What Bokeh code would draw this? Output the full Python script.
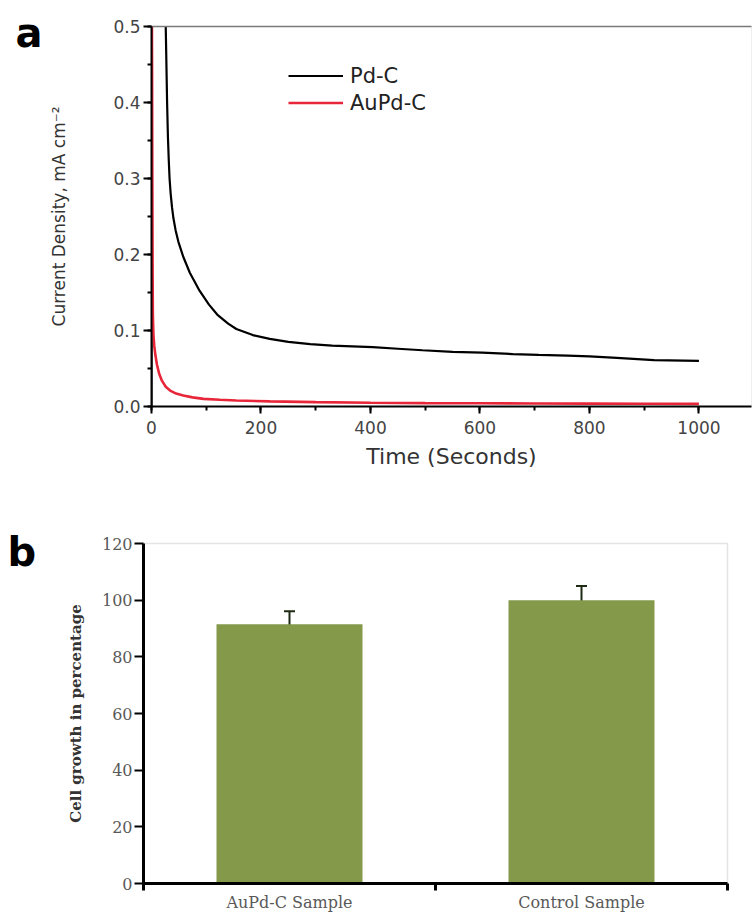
from bokeh.plotting import figure
from bokeh.models import (ColumnDataSource, LinearAxis, FixedTicker, SingleIntervalTicker,
                          Whisker, TeeHead, Range1d, NumeralTickFormatter)
from bokeh.core.properties import value
from bokeh.layouts import column, row
from bokeh.embed import file_html
from bokeh.resources import INLINE

# ---------------- data: panel a (chronoamperometry) ----------------
pdc_time = [0, 1, 24, 25, 26, 27, 28.5, 30, 31.5, 33, 35, 37.5, 40, 44, 49, 58, 70, 88, 105,
            120, 140, 155, 185, 216, 250, 290, 330, 367, 404, 450, 495, 550, 604, 660, 707,
            760, 800, 850, 918, 1000]
pdc_current = [0.0, 0.8, 0.58, 0.54, 0.50, 0.46, 0.40, 0.355, 0.325, 0.30, 0.28, 0.262, 0.248,
               0.232, 0.217, 0.197, 0.176, 0.152, 0.134, 0.121, 0.109, 0.102, 0.094, 0.089,
               0.085, 0.082, 0.080, 0.079, 0.078, 0.076, 0.074, 0.072, 0.071, 0.069, 0.068,
               0.067, 0.066, 0.064, 0.061, 0.060]

aupdc_time = [0.5, 1, 1.5, 2, 2.5, 3.5, 5, 7, 10, 14, 19, 26, 34, 45, 58, 75, 95, 125, 155,
              216, 300, 400, 500, 600, 700, 800, 900, 1000]
aupdc_current = [0.55, 0.45, 0.30, 0.18, 0.12, 0.095, 0.08, 0.068, 0.055, 0.043, 0.034, 0.026,
                 0.021, 0.017, 0.0145, 0.012, 0.010, 0.0088, 0.0079, 0.0068, 0.0058, 0.005,
                 0.0045, 0.0042, 0.004, 0.0038, 0.0036, 0.0035]

# ---------------- data: panel b (cell growth) ----------------
cell_categories = ["AuPd-C Sample", "Control Sample"]
cell_growth = [91.5, 100.0]
cell_error = [4.6, 5.0]

panel_letters = ["a", "b"]

SANS = "DejaVu Sans"
SERIF = "DejaVu Serif"

LETTER_W = 46
A_H = 485
B_H = 429


def letter_panel(letter, height, left, baseline_from_top):
    lp = figure(width=LETTER_W, height=height, min_border=0, title=None,
                x_range=Range1d(0, LETTER_W), y_range=Range1d(0, height),
                x_axis_type=None, y_axis_type=None, frame_align=False,
                output_backend="svg", toolbar_location=None)
    lp.grid.visible = False
    lp.outline_line_color = None
    lp.text(x=[left], y=[height - baseline_from_top], text=[letter],
            text_font=value(SANS), text_font_size="40px", text_font_style="bold",
            text_color="black", text_baseline="alphabetic", text_align="left")
    return lp


# ================= panel a =================
pa = figure(width=753 - LETTER_W, height=A_H, frame_align=False,
            min_border_left=148 - LETTER_W, min_border_right=2, min_border_top=26,
            min_border_bottom=79,
            x_range=Range1d(0, 1096), y_range=Range1d(0, 0.5),
            output_backend="svg", toolbar_location=None)
pa.grid.visible = False
pa.outline_line_color = "#eeeeee"

pa.line(pdc_time, pdc_current, line_color="black", line_width=2.2, legend_label="Pd-C")
pa.line(aupdc_time, aupdc_current, line_color="#e8263a", line_width=2.6, legend_label="AuPd-C")

for ax in (pa.xaxis[0], pa.yaxis[0]):
    ax.axis_line_color = "black"
    ax.axis_line_width = 2
    ax.major_tick_line_color = "black"
    ax.minor_tick_line_color = "black"
    ax.major_tick_line_width = 2
    ax.minor_tick_line_width = 2
    ax.major_tick_in = 0
    ax.minor_tick_in = 0
    ax.major_label_text_font = SANS
    ax.major_label_text_font_size = "17px"
    ax.major_label_text_color = "#444444"
    ax.axis_label_text_font = SANS
    ax.axis_label_text_font_style = "normal"
    ax.axis_label_text_color = "#333333"

pa.xaxis.ticker = SingleIntervalTicker(interval=200, num_minor_ticks=2)
pa.xaxis.major_tick_out = 7
pa.xaxis.minor_tick_out = 4
pa.xaxis.major_label_standoff = 7
pa.xaxis.axis_label = "Time (Seconds)"
pa.xaxis.axis_label_text_font_size = "22px"
pa.xaxis.axis_label_standoff = 7

pa.yaxis.ticker = SingleIntervalTicker(interval=0.1, num_minor_ticks=2)
pa.yaxis.formatter = NumeralTickFormatter(format="0.0")
pa.yaxis.major_tick_out = 8
pa.yaxis.minor_tick_out = 4
pa.yaxis.major_label_standoff = 3
pa.yaxis.axis_label = "Current Density, mA cm\u207b\u00b2"
pa.yaxis.axis_label_text_font_size = "17px"
pa.yaxis.axis_label_standoff = 41

top_axis = LinearAxis(ticker=FixedTicker(ticks=[]), axis_line_color="#7a7a7a",
                      axis_line_width=1.5, major_label_text_font_size="0px",
                      major_tick_line_color=None, minor_tick_line_color=None)
pa.add_layout(top_axis, "above")

pa.legend.location = (137, 290)
pa.legend.label_text_font = SANS
pa.legend.label_text_font_size = "21px"
pa.legend.label_text_color = "#222222"
pa.legend.glyph_width = 55
pa.legend.glyph_height = 27
pa.legend.label_height = 27
pa.legend.label_standoff = 7
pa.legend.spacing = 0
pa.legend.padding = 0
pa.legend.margin = 0
pa.legend.border_line_color = None
pa.legend.background_fill_alpha = 0

# ================= panel b =================
bar_x = [i + 0.5 for i in range(len(cell_categories))]
src = ColumnDataSource(dict(
    x=bar_x,
    top=cell_growth,
    upper=[g + e for g, e in zip(cell_growth, cell_error)],
    lower=[g - e for g, e in zip(cell_growth, cell_error)],
))

pb = figure(width=753 - LETTER_W, height=B_H, frame_align=False,
            min_border_left=143 - LETTER_W, min_border_right=26, min_border_top=58,
            min_border_bottom=28,
            x_range=Range1d(0, len(cell_categories)), y_range=Range1d(0, 120),
            output_backend="svg", toolbar_location=None)
pb.grid.visible = False
pb.outline_line_color = "#e4e4e4"
pb.outline_line_width = 1.5

pb.vbar(x="x", top="top", width=0.5, source=src, fill_color="#84994a", line_color=None)
pb.add_layout(Whisker(source=src, base="x", upper="upper", lower="lower",
                      line_color="#1f2a14", line_width=2,
                      upper_head=TeeHead(size=11, line_color="#1f2a14", line_width=2),
                      lower_head=TeeHead(size=7, line_color="#1f2a14", line_width=3)))

for ax in (pb.xaxis[0], pb.yaxis[0]):
    ax.axis_line_color = "black"
    ax.axis_line_width = 3
    ax.major_tick_line_color = "black"
    ax.minor_tick_line_color = "black"
    ax.major_tick_line_width = 2
    ax.minor_tick_line_width = 3
    ax.major_tick_in = 0
    ax.minor_tick_in = 0
    ax.major_label_text_font = SERIF
    ax.major_label_text_font_size = "16px"
    ax.major_label_text_color = "#595959"

pb.xaxis.ticker = FixedTicker(ticks=bar_x, minor_ticks=list(range(len(cell_categories) + 1)))
pb.xaxis.major_label_overrides = {x: c for x, c in zip(bar_x, cell_categories)}
pb.xaxis.major_tick_out = 0
pb.xaxis.minor_tick_out = 7
pb.xaxis.major_label_standoff = 2

pb.yaxis.ticker = SingleIntervalTicker(interval=20, num_minor_ticks=0)
pb.yaxis.major_tick_out = 9
pb.yaxis.minor_tick_out = 0
pb.yaxis.major_label_standoff = 2
pb.yaxis.axis_label = "Cell growth in percentage"
pb.yaxis.axis_label_text_font = SERIF
pb.yaxis.axis_label_text_font_size = "15px"
pb.yaxis.axis_label_text_font_style = "bold"
pb.yaxis.axis_label_text_color = "#333333"
pb.yaxis.axis_label_standoff = 14

la = letter_panel(panel_letters[0], A_H, 15, 32)
lb = letter_panel(panel_letters[1], B_H, 7, 66)

layout = column(row(la, pa), row(lb, pb))
open("out.html", "w").write(file_html(layout, INLINE))
